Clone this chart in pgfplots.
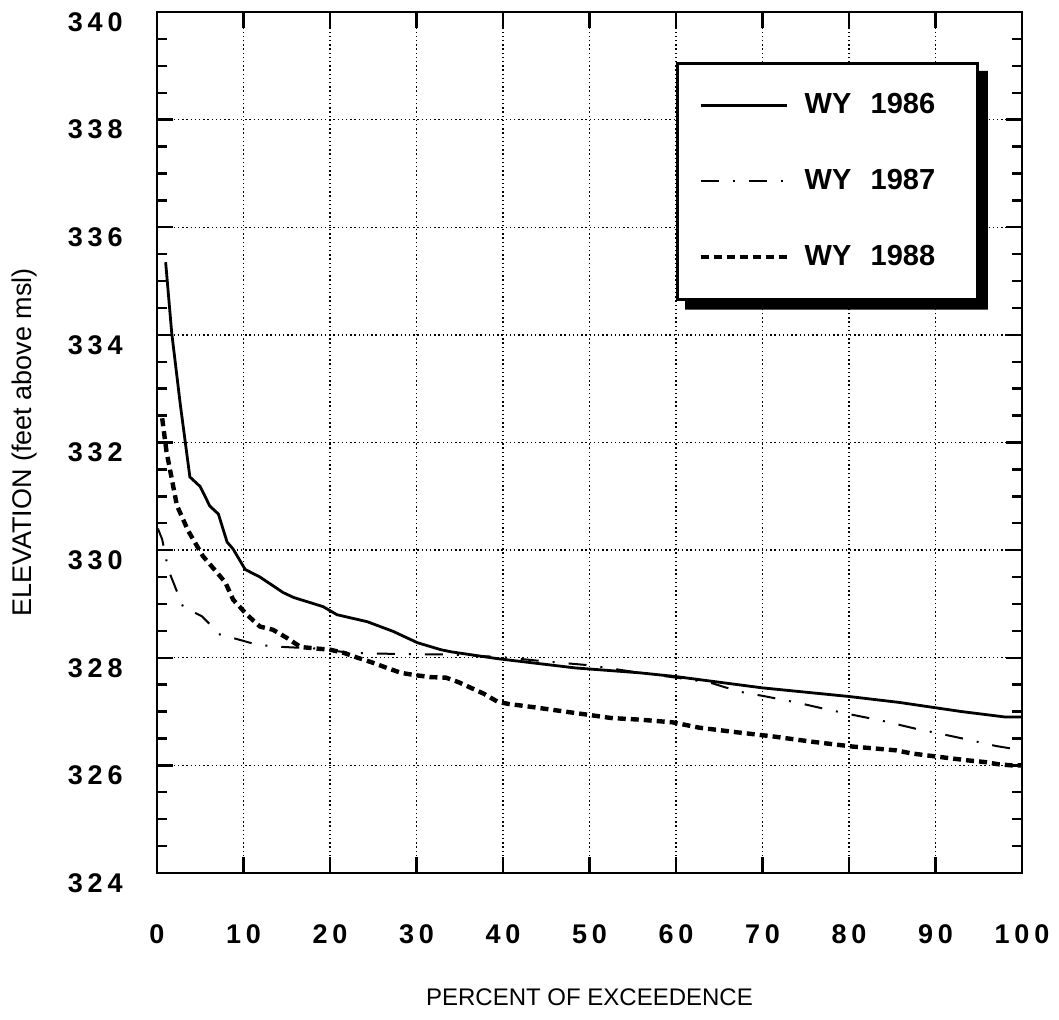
\documentclass[border=0pt]{standalone}
\usepackage{fontspec}
\setmainfont{Liberation Sans}
\newfontfamily\tickfont{Liberation Sans}[LetterSpace=18]
\usepackage{pgfplots}
\pgfplotsset{compat=1.18}
\usepackage{pgfplotstable}
\usetikzlibrary{calc}

% exceedence curves
\pgfplotstableread{
x y
1.0 335.35
1.7 334.04
2.7 332.70
3.8 331.36
5.0 331.18
6.1 330.82
7.1 330.67
8.1 330.15
8.8 330.02
10.2 329.64
11.9 329.50
14.6 329.21
15.8 329.12
19.2 328.95
20.8 328.80
24.3 328.67
27.3 328.49
30.1 328.28
32.8 328.15
34.0 328.11
39.5 327.98
48.4 327.81
55.8 327.72
60.0 327.65
70.0 327.44
80.0 327.28
85.8 327.17
93.0 327.00
98.0 326.90
100 326.90
}\wyA

\pgfplotstableread{
x y
0.1 330.40
0.6 330.20
1.3 329.64
3.0 328.95
5.2 328.77
7.3 328.43
9.4 328.34
11.6 328.24
14.6 328.20
18.5 328.17
22.4 328.09
27.8 328.07
34.0 328.06
40.0 328.01
45.0 327.93
50.0 327.86
55.0 327.74
60.0 327.63
63.9 327.54
67.3 327.37
70.4 327.28
73.9 327.17
76.9 327.06
80.4 326.94
83.8 326.83
88.0 326.67
90.2 326.60
93.7 326.48
97.0 326.36
100 326.28
}\wyB

\pgfplotstableread{
x y
0.6 332.45
1.1 331.83
1.7 331.33
2.3 330.83
3.6 330.36
5.3 329.89
6.9 329.59
7.9 329.40
8.8 329.08
10.4 328.80
11.9 328.58
13.4 328.52
15.0 328.37
16.6 328.20
18.5 328.17
20.0 328.15
21.6 328.09
23.2 328.00
24.9 327.91
26.6 327.81
28.2 327.72
29.7 327.68
31.6 327.64
33.4 327.63
34.8 327.55
36.3 327.44
37.8 327.33
39.4 327.18
40.7 327.14
43.6 327.08
46.7 327.01
49.4 326.95
52.5 326.88
55.8 326.85
59.6 326.80
62.7 326.70
67.3 326.61
71.1 326.54
75.7 326.44
80.4 326.35
85.4 326.28
87.3 326.22
90.8 326.15
93.9 326.09
95.8 326.06
97.3 326.02
98.8 326.00
100 326.00
}\wyC

\begin{document}
\begin{tikzpicture}
\begin{axis}[
    scale only axis,
    width=432.5bp, height=430.5bp,
    xmin=0, xmax=100, ymin=324, ymax=340,
    xtick={0,10,...,100},
    ytick={324,326,...,340},
    minor y tick num=3,
    tick align=inside,
    major tick length=8bp,
    minor tick length=5bp,
    tick style={line width=1.2bp, black},
    axis line style={line width=1.3bp},
    grid=major,
    major grid style={line width=0.7bp, dash pattern=on 0.7bp off 1.4bp, black},
    /pgf/number format/assume math mode=true,
    ticklabel style={font=\tickfont\bfseries\fontsize{13.5bp}{15bp}\selectfont},
    xticklabel style={anchor=center, yshift=-30.5bp},
    yticklabel style={anchor=east, inner sep=0pt, xshift=-17bp, yshift=-5bp},
    every axis x label/.style={at={(rel axis cs:0.5,0)}, anchor=center, yshift=-62bp},
    every axis y label/.style={at={(rel axis cs:0,0.5)}, rotate=90, anchor=center, yshift=66bp},
    xlabel={\fontsize{12bp}{14bp}\selectfont PERCENT OF EXCEEDENCE},
    ylabel={\fontsize{13.5bp}{15bp}\selectfont ELEVATION (feet above msl)},
    legend style={name=leg, at={(rel axis cs:0.6,0.942)}, anchor=north west,
        draw=black, line width=1.3bp, fill=white,
        inner xsep=10.5bp, inner ysep=2bp, row sep=0pt,
        font=\bfseries\fontsize{14.5bp}{17bp}\selectfont,
        cells={anchor=west, minimum height=38bp, text width=80bp, inner xsep=0pt}},
    legend image code/.code={
        \draw[#1] (0bp,0bp) -- (43bp,0bp);
    },
]
\addplot[black, line width=1.4bp] table {\wyA};
\addlegendentry{\hspace*{6bp}WY~~1986}
\addplot[black, line width=1bp, dash pattern=on 9bp off 7bp on 1bp off 7bp] table {\wyB};
\addlegendentry{\hspace*{6bp}WY~~1987}
\addplot[black, line width=2.2bp, dash pattern=on 4bp off 2.5bp] table {\wyC};
\addlegendentry{\hspace*{6bp}WY~~1988}
\end{axis}
% heavy shadow on the right and lower edges of the legend box
\fill[black] ($(leg.north east)+(0,-4.5bp)$) -- ++(4.5bp,0)
    |- ($(leg.south west)+(4.5bp,-4.5bp)$) -- ++(0,4.5bp)
    -| cycle;
\pgfresetboundingbox
\path ($(current axis.south west)+(-78.5bp,-73.5bp)$) rectangle ($(current axis.north east)+(18.5bp,6bp)$);
\end{tikzpicture}
\end{document}
